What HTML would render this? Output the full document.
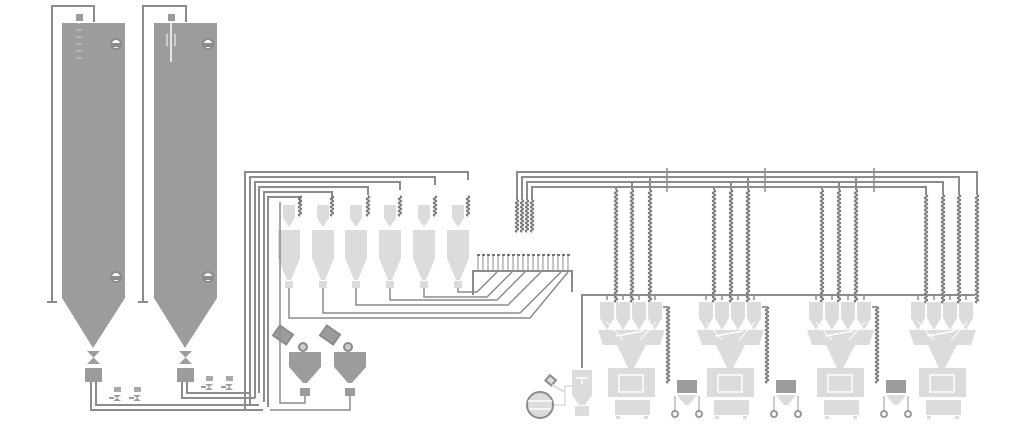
<!DOCTYPE html>
<html><head><meta charset="utf-8"><style>
html,body{margin:0;padding:0;background:#fff;width:1024px;height:429px;overflow:hidden}
svg{display:block}
</style></head><body>
<svg id="s" width="1024" height="429" viewBox="0 0 1024 429" xmlns="http://www.w3.org/2000/svg">
<g id="g" fill="none" stroke="#8c8c8c" stroke-width="2"></g>
</svg>
<script>
const g=document.getElementById('g');let h='';
const L=(p,c='#8c8c8c',w=2)=>h+=`<polyline points="${p}" stroke="${c}" stroke-width="${w}" fill="none"/>`;
const P=(p,c)=>h+=`<polygon points="${p}" fill="${c}" stroke="none"/>`;
const R=(x,y,w,hh,c)=>h+=`<rect x="${x}" y="${y}" width="${w}" height="${hh}" fill="${c}" stroke="none"/>`;
const W=(x,y1,y2)=>{let d=`M${x},${y1}`;for(let y=y1;y<y2;y+=4){d+=` q3,1 0,2 q-3,1 0,2`;}h+=`<path d="${d}" stroke="#777" stroke-width="1.5" fill="none"/>`;};
const DK='#9c9c9c',LT='#dcdcdc';
// silos
[[62,79,52,94],[154,171,143,186]].forEach(([x,sx,px,ex])=>{
 L(`${ex},22 ${ex},6 ${px},6 ${px},302`);L(`${px-5},302 ${px+5},302`);
 P(`${x},23 ${x+63},23 ${x+63},298 ${x+31},348 ${x},298`,DK);
 R(sx-3,14,7,7,DK);
 [44,277].forEach(y=>{h+=`<circle cx="${x+54}" cy="${y}" r="5" fill="#fff"/><rect x="${x+49}" y="${y}" width="10" height="2" fill="${DK}"/>`});
 P(`${x+25},351 ${x+38},351 ${x+25},364 ${x+38},364`,DK);
 R(x+23,368,17,14,DK);
});
L('79,21 79,24','#fff',1);for(let i=0;i<5;i++)L(`${76+0},${30+i*7} ${82},${30+i*7}`,'#ccc',1);
L('171,22 171,62','#fff',1.5);L('167,34 167,46','#fff',1);L('175,34 175,46','#fff',1);
// bottom pipes
L('91,382 91,410 263,410');L('96,382 96,405 259,405');
L('182,382 182,398 255,398');L('187,382 187,393 251,393');
[[117,395],[137,395],[209,384],[229,384]].forEach(([x,y])=>{R(x-3,y-8,7,5,'#aaa');P(`${x-4},${y} ${x+4},${y} ${x-4},${y+6} ${x+4},${y+6}`,DK);R(x-8,y+2,5,2,DK);});
// bundle
const bx=[245,250,255,259,264,268],by=[172,177,182,187,192,197],be=[468,435,400,368,332,300],bb=[410,405,398,393,402,407];
for(let i=0;i<6;i++){L(`${bx[i]},${bb[i]} ${bx[i]},${by[i]} ${be[i]},${by[i]} ${be[i]},${by[i]+8}`);}
[300,332,368,400,435,468].forEach(x=>W(x,196,216));
// small hoppers
const hx=[289,323,356,390,424,458],hl=[318,313,305,300,297,292],xe=[530,520,508,497,487,477];
hx.forEach((c,i)=>{P(`${c-6},205 ${c+6},205 ${c+6},218 ${c},227 ${c-6},218`,LT);R(c-11,230,22,28,LT);P(`${c-11},258 ${c+11},258 ${c+2},280 ${c-2},280`,LT);R(c-4,281,8,7,LT);
 const bxr=Math.min(568,xe[i]+(hl[i]-272));
 L(`${c},288 ${c},${hl[i]} ${xe[i]},${hl[i]} ${bxr},272`,'#8c8c8c',1.5);});
// manifold
L('473,295 473,271 572,271 572,292','#8c8c8c',2);
for(let x=478;x<=568;x+=5){L(`${x},255 ${x},271`,'#8c8c8c',1);R(x-1,254,3,2,'#777');}
// dark hoppers
[[289,275],[334,322]].forEach(([x,b])=>{h+=`<rect x="${b}" y="329" width="16" height="12" fill="${DK}" transform="rotate(35 ${b+8} 335)"/>`;h+=`<circle cx="${x+14}" cy="347" r="4" fill="#ccc"/>`;
 P(`${x},352 ${x+32},352 ${x+32},367 ${x+18},383 ${x+14},383 ${x},367`,DK);R(x+11,388,10,8,DK);});
L('305,396 305,403 280,403 280,202','#8c8c8c',1.5);L('350,396 350,410 270,410','#8c8c8c',1.5);
// right bundle
const rx=[517,522,527,532],ry=[172,177,182,187],re=[977,959,943,926];
for(let i=0;i<4;i++){L(`${rx[i]},200 ${rx[i]},${ry[i]} ${re[i]},${ry[i]} ${re[i]},195`);W(rx[i],200,232);}
[667,765,874].forEach(x=>L(`${x},168 ${x},192`,'#8c8c8c',1.5));
// drops
[[616,632,650],[714,731,748],[822,839,856]].forEach(a=>a.forEach((x,i)=>{L(`${x},${[187,182,177][i]} ${x},190`);W(x,190,300);}));
re.forEach(x=>W(x,195,300));
// distribution line
L('582,368 582,295 975,295');
const st=[598,697,807,909];
st.forEach((s,k)=>{
 for(let j=0;j<4;j++){const c=s+9+j*16;L(`${c},295 ${c},300`,'#8c8c8c',1.5);P(`${c-7},302 ${c+7},302 ${c+7},318 ${c},330 ${c-7},318`,LT);}
 P(`${s},330 ${s+67},330 ${s+62},345 ${s+48},345 ${s+36},368 ${s+30},368 ${s+19},345 ${s+5},345`,LT);
 L(`${s+18},336 ${s+46},331`,'#fff',1.5);L(`${s+9},${322} ${s+25},${340}`,'#fff',1);L(`${s+58},322 ${s+42},340`,'#fff',1);
 R(s+10,368,47,29,LT);h+=`<rect x="${s+21}" y="375" width="24" height="17" fill="none" stroke="#fff" stroke-width="1.5"/>`;
 R(s+17,400,35,15,LT);R(s+18,416,4,3,LT);R(s+46,416,4,3,LT);
 if(k<3){const bxx=s+79;L(`${s+65},307 ${s+70},307`,'#777',1.5);W(s+70,307,380);R(bxx,380,20,13,DK);P(`${bxx},395 ${bxx+20},395 ${bxx+12},405 ${bxx+8},405`,LT);
  h+=`<circle cx="${bxx-2}" cy="414" r="3" fill="#fff" stroke="#999"/><circle cx="${bxx+22}" cy="414" r="3" fill="#fff" stroke="#999"/>`;L(`${bxx-2},396 ${bxx-2},411`,'#999',1);L(`${bxx+22},396 ${bxx+22},411`,'#999',1);}
});
// cyclone & sphere
P('572,370 592,370 592,395 585,405 579,405 572,395',LT);R(575,406,14,10,LT);L('576,378 588,378','#fff',1.5);L('582,378 582,384','#fff',1.5);
L('572,386 565,386 565,405 553,405',LT,1.5);
h+=`<circle cx="540" cy="405" r="13" fill="${LT}"/>`;L('528,401 552,401','#fff',1.5);L('529,409 551,409','#fff',1.5);
h+=`<rect x="547" y="377" width="8" height="7" fill="${LT}" transform="rotate(40 551 380)"/>`;L('552,385 565,392',LT,2);
g.innerHTML=h;
</script>
</body></html>
